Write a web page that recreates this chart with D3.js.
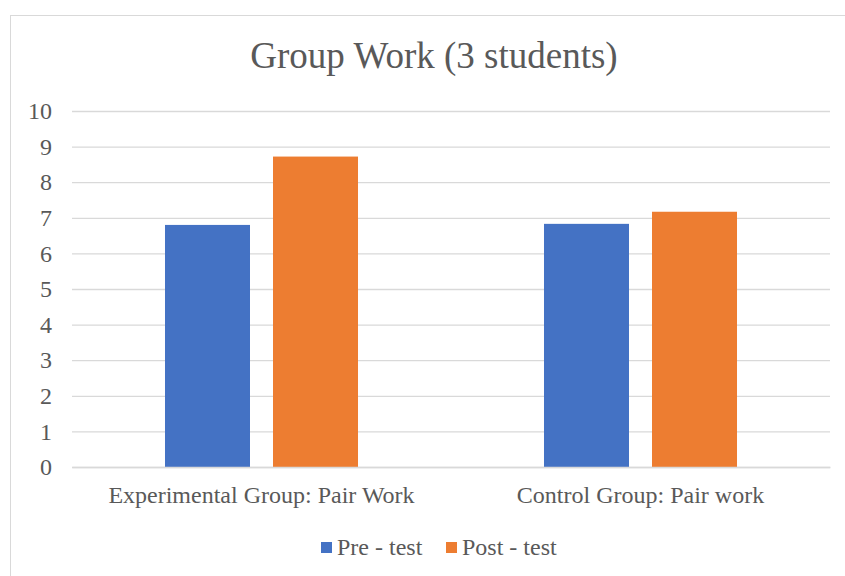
<!DOCTYPE html>
<html>
<head>
<meta charset="utf-8">
<script src="https://cdn.jsdelivr.net/npm/d3@7"></script>
<style>
  html, body { margin: 0; padding: 0; background: #fff; }
  svg { display: block; }
</style>
</head>
<body>
<svg id="chart" width="845" height="576"></svg>
<script>
// Mean scores per group, before and after the group-work sessions
const categories = ["Experimental Group: Pair Work", "Control Group: Pair work"];
const seriesNames = ["Pre - test", "Post - test"];
const preTest = [6.8, 6.83];
const postTest = [8.72, 7.17];
const yTicks = [0, 1, 2, 3, 4, 5, 6, 7, 8, 9, 10];
const colors = ["#4472c4", "#ed7d31"];

const FONT = "'Liberation Serif', 'Times New Roman', Times, serif";
const TEXT_COLOR = "#595959";
const GRID_COLOR = "#d9d9d9";

const rows = categories.map((c, i) => ({ category: c, values: [preTest[i], postTest[i]] }));

const svg = d3.select("#chart");
const plot = { left: 72, right: 830, top: 111, bottom: 467 };

// Chart frame
svg.append("rect")
  .attr("x", 10.5).attr("y", 15.5)
  .attr("width", 900).attr("height", 700)
  .attr("fill", "none").attr("stroke", GRID_COLOR).attr("stroke-width", 1);

// Title
svg.append("text")
  .attr("x", 434).attr("y", 68)
  .attr("text-anchor", "middle")
  .style("font-family", FONT).style("font-size", "37px").style("fill", TEXT_COLOR)
  .text("Group Work (3 students)");

const y = d3.scaleLinear().domain([0, 10]).range([plot.bottom, plot.top]);
const x0 = d3.scaleBand().domain(categories).range([plot.left, plot.right]).padding(0);
const x1 = d3.scaleBand().domain(seriesNames).range([0, x0.bandwidth()])
  .paddingInner(0.213).paddingOuter(0.861);

// Gridlines and value labels
const yAxis = d3.axisLeft(y).tickValues(yTicks)
  .tickSize(-(plot.right - plot.left)).tickPadding(20).tickFormat(d3.format("d"));
const gy = svg.append("g").attr("transform", `translate(${plot.left},0)`).call(yAxis);
gy.select(".domain").remove();
gy.selectAll(".tick line").attr("stroke", GRID_COLOR).attr("stroke-width", 1.3);
gy.selectAll(".tick text")
  .style("font-family", FONT).style("font-size", "24px").style("fill", TEXT_COLOR);

// Bars
const groups = svg.append("g").selectAll("g").data(rows).join("g")
  .attr("transform", d => `translate(${x0(d.category)},0)`);
groups.selectAll("rect")
  .data(d => d.values.map((v, i) => ({ key: seriesNames[i], value: v, i })))
  .join("rect")
  .attr("x", d => x1(d.key))
  .attr("width", x1.bandwidth())
  .attr("y", d => y(d.value))
  .attr("height", d => y(0) - y(d.value))
  .attr("fill", d => colors[d.i]);

// Category axis
const xAxis = d3.axisBottom(x0).tickSize(0).tickPadding(19);
const gx = svg.append("g").attr("transform", `translate(0,${plot.bottom})`).call(xAxis);
gx.select(".domain").attr("stroke", GRID_COLOR).attr("stroke-width", 1.3);
gx.selectAll(".tick text")
  .style("font-family", FONT).style("font-size", "24px").style("fill", TEXT_COLOR);

// Legend
const legendX = [321, 446];
seriesNames.forEach((name, i) => {
  const g = svg.append("g").attr("transform", `translate(${legendX[i]},0)`);
  g.append("rect").attr("x", 0).attr("y", 542).attr("width", 11).attr("height", 11).attr("fill", colors[i]);
  g.append("text").attr("x", 16).attr("y", 555)
    .style("font-family", FONT).style("font-size", "24px").style("fill", TEXT_COLOR)
    .text(name);
});
</script>
</body>
</html>
